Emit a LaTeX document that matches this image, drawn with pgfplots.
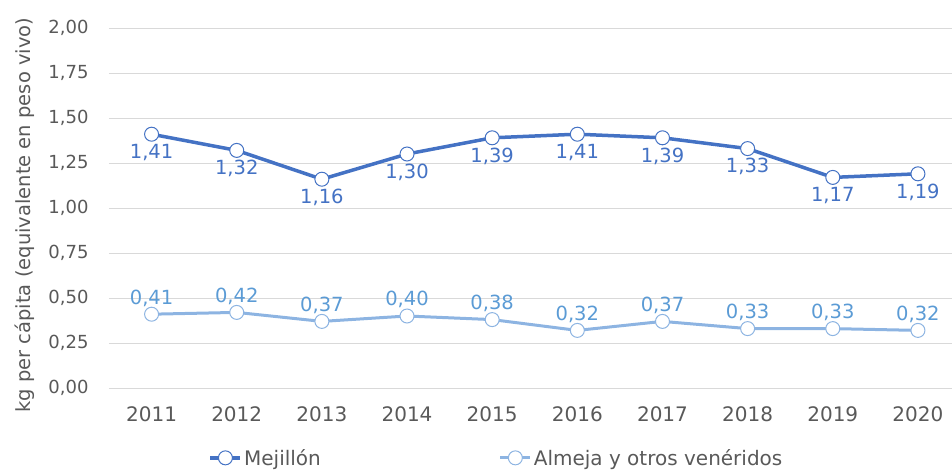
\documentclass[border=0pt]{standalone}
\usepackage{pgfplots}
\pgfplotsset{compat=1.18}
\usepackage{pgfplotstable}
\usepackage{fontspec}
\setmainfont{DejaVu Sans}
\definecolor{mej}{HTML}{4472C4}
\definecolor{alm}{HTML}{8DB4E2}
\definecolor{almtxt}{HTML}{5B9BD5}
\definecolor{txt}{HTML}{595959}
\definecolor{grd}{HTML}{D9D9D9}
\pgfplotstableread{
x y
0 1.41
1 1.32
2 1.16
3 1.30
4 1.39
5 1.41
6 1.39
7 1.33
8 1.17
9 1.19
}\mejillon
\pgfplotstableread{
x y
0 0.41
1 0.42
2 0.37
3 0.40
4 0.38
5 0.32
6 0.37
7 0.33
8 0.33
9 0.32
}\almeja
\pgfkeys{/pgf/number format/myfmt/.style={/pgf/number format/fixed, /pgf/number format/fixed zerofill, /pgf/number format/precision=2, /pgf/number format/use comma, /pgf/number format/assume math mode=true}}
\begin{document}
\begin{tikzpicture}
\begin{axis}[
  at={(0,0)}, anchor=south west,
  scale only axis, width=843pt, height=360pt,
  xmin=-0.5, xmax=9.4, ymin=0, ymax=2,
  xtick={0,...,9},
  xticklabels={2011,2012,2013,2014,2015,2016,2017,2018,2019,2020},
  ytick={0,0.25,0.5,0.75,1,1.25,1.5,1.75,2},
  ymajorgrids, grid style={grd, line width=1pt},
  axis line style={draw=none}, major tick length=0pt,
  tick label style={text=txt},
  yticklabel style={/pgf/number format/myfmt, font=\fontsize{18}{18}\selectfont, xshift=-17pt},
  xticklabel style={font=\fontsize{20}{20}\selectfont, yshift=-15pt},
  ylabel={kg per cápita (equivalente en peso vivo)},
  every axis y label/.style={at={(axis description cs:-0.0997,0.48)}, rotate=90, anchor=center,
    font=\fontsize{19.5}{19.5}\selectfont, text=txt},
  clip=false,
  legend columns=2,
  legend style={at={(0.118,-0.194)}, anchor=west, draw=none, fill=none,
    font=\fontsize{20}{20}\selectfont, text=txt, inner sep=0pt,
    /tikz/every even column/.append style={column sep=176pt}},
  legend image code/.code={\draw[mark repeat=2, mark phase=2] plot coordinates {(0pt,0pt) (15pt,0pt) (30pt,0pt)};},
]
\addplot[mej, line width=3.5pt, mark=*, mark size=7pt, mark options={fill=white, line width=1pt},
  nodes near coords, point meta=y,
  every node near coord/.append style={font=\fontsize{19.5}{19.5}\selectfont, text=mej, anchor=north, yshift=-6pt,
    /pgf/number format/myfmt}]
  table[x=x,y=y] {\mejillon};
\addlegendentry{Mejillón}
\addplot[alm, line width=3pt, mark=*, mark size=7pt, mark options={fill=white, line width=1pt},
  nodes near coords, point meta=y,
  every node near coord/.append style={font=\fontsize{19.5}{19.5}\selectfont, text=almtxt, anchor=south, yshift=4pt,
    /pgf/number format/myfmt}]
  table[x=x,y=y] {\almeja};
\addlegendentry{Almeja y otros venéridos}
\end{axis}
\pgfresetboundingbox
\path (-109pt,-84pt) rectangle (843pt,388pt);
\end{tikzpicture}
\end{document}
